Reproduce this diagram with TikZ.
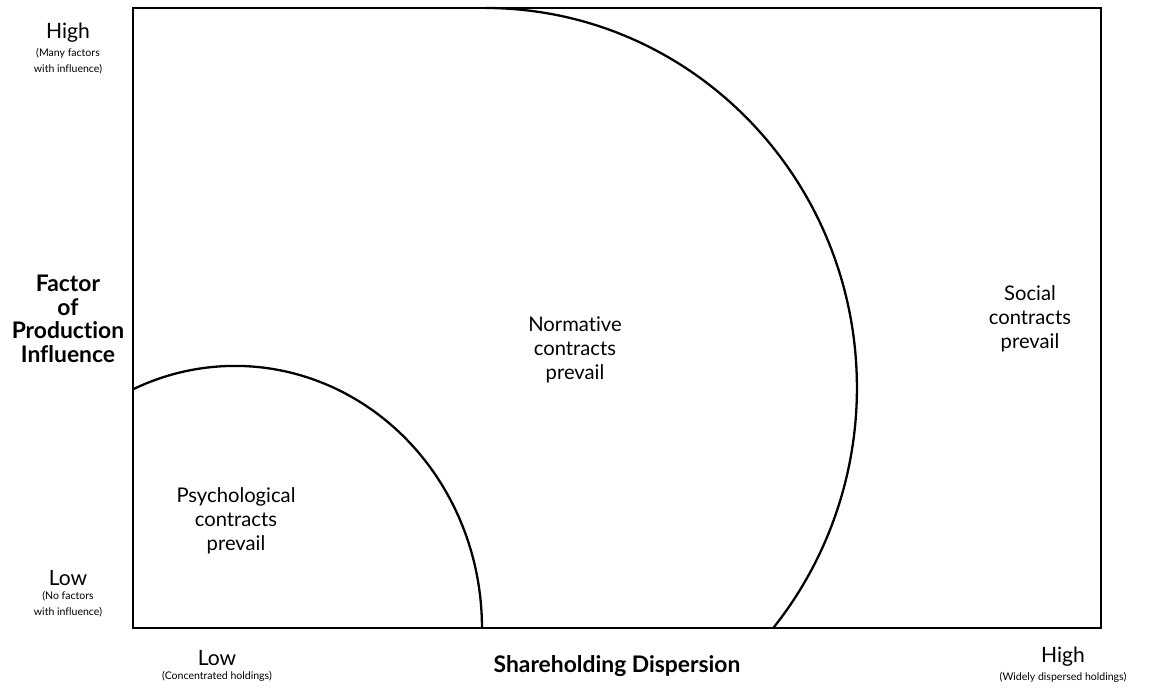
\documentclass[tikz,border=0pt]{standalone}
\usepackage{fontspec}
\setmainfont[Ligatures=NoCommon]{Lato}
\usepackage{tikz}
\usetikzlibrary{positioning}

\begin{document}
\begin{tikzpicture}[
    x=0.02cm, y=0.02cm,
    every node/.style={font=\fontsize{11.5}{13.6}\selectfont, align=center, inner sep=0pt},
    frame/.style={draw=black, line width=1.5pt},
    curve/.style={draw=black, line width=1.3pt},
    axlbl/.style={font=\fontsize{12}{13.6}\selectfont},
    axnote/.style={font=\fontsize{6}{9}\selectfont},
    axtitle/.style={font=\bfseries\fontsize{13}{13.4}\selectfont},
    region/.style={font=\fontsize{11.5}{13.6}\selectfont}
]
\useasboundingbox (0,0) rectangle (1149,688);

% === Plot frame ===
\coordinate (sw) at (133,60);
\coordinate (ne) at (1101,680);
\draw[frame] (sw) rectangle (ne);

% === Contract zones ===
\coordinate (bigtop) at (485,680);
\coordinate (smallleft) at (133,298.7);
\draw[curve] (bigtop) arc[start angle=90, end angle=-39.2, x radius=7.44cm, y radius=7.6cm];
\draw[curve] (smallleft) arc[start angle=114.4, end angle=0, x radius=4.94cm, y radius=5.24cm];

\node[region] (psych) at (236,167) {Psychological\\contracts\\prevail};
\node[region] (norm) at (575,338) {Normative\\contracts\\prevail};
\node[region] (soc) at (1030,369) {Social\\contracts\\prevail};

% === Vertical axis ===
\node[axlbl] (yhigh) at (68,655) {High};
\node[axnote, below=3pt of yhigh] (yhighnote) {(Many factors\\with influence)};
\node[axtitle] (ytitle) at (68,369) {Factor\\of\\Production\\Influence};
\node[axlbl] (ylow) at (68,110) {Low};
\node[axnote, below=3pt of ylow] (ylownote) {(No factors\\with influence)};

% === Horizontal axis ===
\node[axlbl] (xlow) at (217,30) {Low};
\node[axnote, below=3pt of xlow] (xlownote) {(Concentrated holdings)};
\node[axtitle] (xtitle) at (617,22) {Shareholding Dispersion};
\node[axlbl] (xhigh) at (1063,31) {High};
\node[axnote, below=3pt of xhigh] (xhighnote) {(Widely dispersed holdings)};

\end{tikzpicture}
\end{document}
